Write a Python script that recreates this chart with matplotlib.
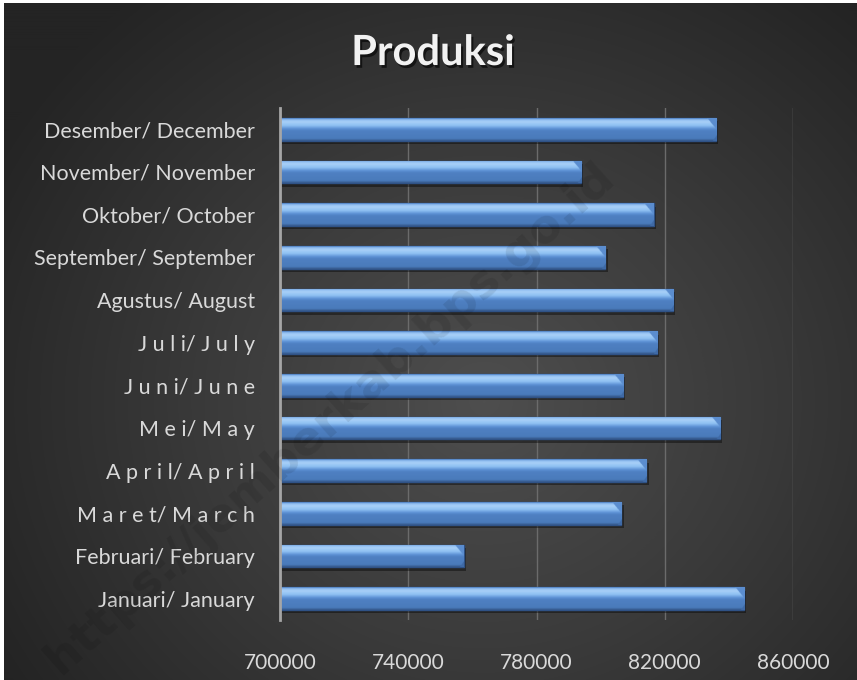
import numpy as np
import matplotlib.pyplot as plt
import matplotlib.patheffects as pe
from matplotlib.colors import LinearSegmentedColormap, to_rgb

plt.rcParams['font.family'] = ['Lato', 'DejaVu Sans']

# data
bulan = ["Januari/ January", "Februari/ February", "M a r e t/ M a r c h",
         "A p r i l/ A p r i l", "M e i/ M a y", "J u n i/ J u n e",
         "J u l i/ J u l y", "Agustus/ August", "September/ September",
         "Oktober/ October", "November/ November", "Desember/ December"]
produksi = [844800, 757300, 806500, 814300, 837300, 807000,
            817700, 822700, 801500, 816500, 794000, 836000]
x_ticks = [700000, 740000, 780000, 820000, 860000]
judul = "Produksi"

fig = plt.figure(figsize=(8.57, 6.80), dpi=100, facecolor='white')

# latar belakang radial
bg = fig.add_axes([4/857, 0, 1 - 4/857, 1 - 3/680], zorder=-10)
yy, xx = np.mgrid[0:680, 0:853]
r = np.sqrt(((xx - 480) / 560.0) ** 2 + ((yy - 400) / 520.0) ** 2)
bg_cmap = LinearSegmentedColormap.from_list('bg', ['#4e4e4e', '#3a3a3a', '#242424'])
bg.imshow(np.clip(r, 0, 1), cmap=bg_cmap, vmin=0, vmax=1, aspect='auto')
bg.set_axis_off()

# watermark
fig.text(0.385, 0.385, "https://jemberkab.bps.go.id", rotation=41.7,
         fontsize=34, fontweight='bold', color='black', alpha=0.09,
         ha='center', va='center', family='DejaVu Sans')

ax = fig.add_axes([280/857, 1 - 620/680, 513/857, 512/680])
ax.patch.set_alpha(0)

y = np.arange(len(bulan))
bars = ax.barh(y, [v - 700000 for v in produksi], left=700000, height=0.53,
               color='#4f80c2', edgecolor='#2f5286', linewidth=1.0, zorder=3,
               path_effects=[pe.SimplePatchShadow(offset=(1.5, -2.5), shadow_rgbFace='black', alpha=0.4),
                             pe.Normal()])

# gradasi batang + ujung miring
stops = [(0.00, '#4a7dc0'), (0.06, '#8fbdf0'), (0.16, '#a8d0f8'), (0.32, '#8ec0f2'),
         (0.46, '#5d91d5'), (0.55, '#4f80c2'), (0.90, '#4a7bbb'), (1.00, '#34578a')]
bar_cmap = LinearSegmentedColormap.from_list('bar', [(p, to_rgb(c)) for p, c in stops])
facet_top = np.array(to_rgb('#5b8dcf'))
facet_bot = np.array(to_rgb('#3f6aa6'))
bevel = 2900
for b in bars:
    x0, x1 = b.get_x(), b.get_x() + b.get_width()
    y0, y1 = b.get_y(), b.get_y() + b.get_height()
    X, V = np.meshgrid(np.linspace(x0, x1, 900), np.linspace(0, 1, 60))
    rgb = bar_cmap(V)[..., :3]
    d = x1 - X
    top_facet = (V < 0.5) & (d < bevel * (1 - V / 0.5))
    bot_facet = (V > 0.75) & (d < bevel * 0.4 * (V - 0.75) / 0.25)
    rgb[top_facet] = facet_top
    rgb[bot_facet] = facet_bot
    im = ax.imshow(rgb[::-1], extent=(x0, x1, y0, y1), aspect='auto', zorder=4,
                   origin='lower', interpolation='bilinear')
    im.set_clip_path(b)

ax.set_xlim(700000, 860000)
ax.set_ylim(-0.5, len(bulan) - 0.5)
ax.set_xticks(x_ticks)
ax.set_xticklabels([str(t) for t in x_ticks])
ax.set_yticks(y)
ax.set_yticklabels(bulan)
ax.tick_params(axis='x', length=0, pad=24, labelsize=15, labelcolor='#d9d9d9')
ax.tick_params(axis='y', length=0, pad=18, labelsize=15.5, labelcolor='#d9d9d9')
ax.grid(axis='x', color='#6b6b6b', linewidth=1, zorder=1)
ax.set_axisbelow(True)
for s in ['top', 'right', 'bottom']:
    ax.spines[s].set_visible(False)
ax.spines['left'].set_color('#a6a6a6')
ax.spines['left'].set_linewidth(2)
ax.spines['left'].set_zorder(5)

fig.text(0.505, 0.922, judul, ha='center', va='center', fontsize=30,
         fontweight='bold', color='#f2f2f2',
         path_effects=[pe.withSimplePatchShadow(offset=(1.5, -2), shadow_rgbFace='black', alpha=0.6)])

fig.savefig('out.png', dpi=100, facecolor=fig.get_facecolor())
